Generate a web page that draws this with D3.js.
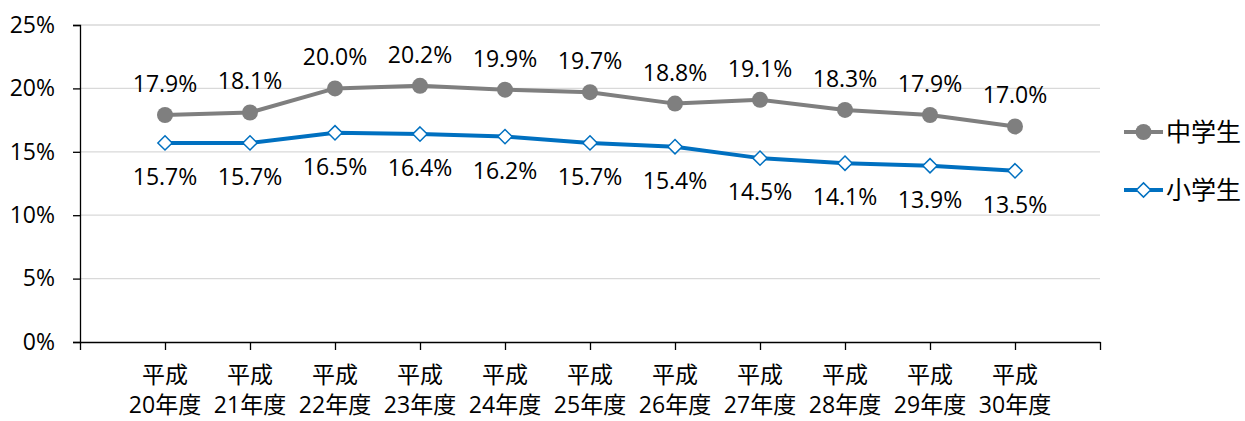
<!DOCTYPE html>
<html>
<head>
<meta charset="utf-8">
<script src="https://cdn.jsdelivr.net/npm/d3@7"></script>
<style>
  body { margin: 0; background: #fff; }
  text { font-family: "Open Sans", "Noto Sans CJK JP", sans-serif; fill: #000; }
</style>
</head>
<body>
<svg></svg>
<script>
var categories = ["20年度", "21年度", "22年度", "23年度", "24年度", "25年度", "26年度", "27年度", "28年度", "29年度", "30年度"];
var juniorHigh = [17.9, 18.1, 20.0, 20.2, 19.9, 19.7, 18.8, 19.1, 18.3, 17.9, 17.0];
var elementary = [15.7, 15.7, 16.5, 16.4, 16.2, 15.7, 15.4, 14.5, 14.1, 13.9, 13.5];
var yTicks = [0, 5, 10, 15, 20, 25];
var seriesNames = ["中学生", "小学生"];

var svgWidth = 1245, svgHeight = 421;
var plotLeft = 80, plotRight = 1100, plotTop = 25, plotBottom = 342;

var svg = d3.select("svg")
    .attr("width", svgWidth)
    .attr("height", svgHeight);

// 13 slots: empty one at each end, categories in between
var x = d3.scaleLinear().domain([0, categories.length + 1]).range([plotLeft, plotRight]);
var y = d3.scaleLinear().domain([0, 25]).range([plotBottom, plotTop]);

// gridlines
svg.selectAll(".grid")
    .data(yTicks.filter(d => d > 0))
    .enter()
    .append("line")
    .attr("x1", plotLeft).attr("x2", plotRight)
    .attr("y1", d => y(d)).attr("y2", d => y(d))
    .attr("stroke", "#d9d9d9")
    .attr("stroke-width", 1.3);

// y axis
var yAxis = d3.axisLeft(y).tickValues(yTicks).tickSize(7).tickFormat(d => d + "%");
var gy = svg.append("g").attr("transform", "translate(" + plotLeft + ",0)").call(yAxis);
gy.select(".domain").attr("stroke", "#000").attr("stroke-width", 1.3);
gy.selectAll(".tick line").attr("stroke", "#000").attr("stroke-width", 1.3);
gy.selectAll(".tick text").attr("x", -25).attr("font-size", 23).attr("font-family", null);

// x axis
var xTickIdx = d3.range(categories.length + 2);
var xAxis = d3.axisBottom(x).tickValues(xTickIdx).tickSize(8).tickSizeOuter(0).tickFormat("");
var gx = svg.append("g").attr("transform", "translate(0," + plotBottom + ")").call(xAxis);
gx.select(".domain").attr("stroke", "#000").attr("stroke-width", 1.3);
gx.selectAll(".tick line").attr("stroke", "#000").attr("stroke-width", 1.3);

// category labels, two lines each
svg.selectAll(".era")
    .data(categories)
    .enter()
    .append("text")
    .attr("class", "era")
    .attr("x", (d, i) => x(i + 1))
    .attr("y", 383)
    .attr("text-anchor", "middle")
    .attr("font-size", 23)
    .text("平成");
svg.selectAll(".cat")
    .data(categories)
    .enter()
    .append("text")
    .attr("class", "cat")
    .attr("x", (d, i) => x(i + 1))
    .attr("y", 413)
    .attr("text-anchor", "middle")
    .attr("font-size", 23)
    .text(d => d);

var line = d3.line()
    .x((d, i) => x(i + 1))
    .y(d => y(d));

// 中学生
svg.append("path")
    .datum(juniorHigh)
    .attr("d", line)
    .attr("fill", "none")
    .attr("stroke", "#7f7f7f")
    .attr("stroke-width", 4)
    .attr("stroke-linejoin", "round");

svg.selectAll(".jh")
    .data(juniorHigh)
    .enter()
    .append("circle")
    .attr("cx", (d, i) => x(i + 1))
    .attr("cy", d => y(d))
    .attr("r", 8)
    .attr("fill", "#7f7f7f");

svg.selectAll(".jhLabel")
    .data(juniorHigh)
    .enter()
    .append("text")
    .attr("x", (d, i) => x(i + 1))
    .attr("y", d => y(d) - 23)
    .attr("text-anchor", "middle")
    .attr("font-size", 23)
    .text(d => d.toFixed(1) + "%");

// 小学生
svg.append("path")
    .datum(elementary)
    .attr("d", line)
    .attr("fill", "none")
    .attr("stroke", "#0070c0")
    .attr("stroke-width", 4)
    .attr("stroke-linejoin", "round");

var diamond = d3.symbol().type(d3.symbolDiamond2).size(130);
svg.selectAll(".el")
    .data(elementary)
    .enter()
    .append("path")
    .attr("d", diamond)
    .attr("transform", (d, i) => "translate(" + x(i + 1) + "," + y(d) + ")")
    .attr("fill", "#fff")
    .attr("stroke", "#0070c0")
    .attr("stroke-width", 1.5);

svg.selectAll(".elLabel")
    .data(elementary)
    .enter()
    .append("text")
    .attr("x", (d, i) => x(i + 1))
    .attr("y", d => y(d) + 42)
    .attr("text-anchor", "middle")
    .attr("font-size", 23)
    .text(d => d.toFixed(1) + "%");

// legend
var legend = svg.append("g");
var legY = [132, 190];
var legColors = ["#7f7f7f", "#0070c0"];
seriesNames.forEach(function(name, i) {
    legend.append("line")
        .attr("x1", 1124).attr("x2", 1163)
        .attr("y1", legY[i]).attr("y2", legY[i])
        .attr("stroke", legColors[i])
        .attr("stroke-width", 4);
    if (i === 0) {
        legend.append("circle")
            .attr("cx", 1143.5).attr("cy", legY[i]).attr("r", 8)
            .attr("fill", legColors[i]);
    } else {
        legend.append("path")
            .attr("d", diamond)
            .attr("transform", "translate(1143.5," + legY[i] + ")")
            .attr("fill", "#fff")
            .attr("stroke", legColors[i])
            .attr("stroke-width", 1.5);
    }
    legend.append("text")
        .attr("x", 1166)
        .attr("y", legY[i] + 9)
        .attr("font-size", 25)
        .text(name);
});
</script>
</body>
</html>
